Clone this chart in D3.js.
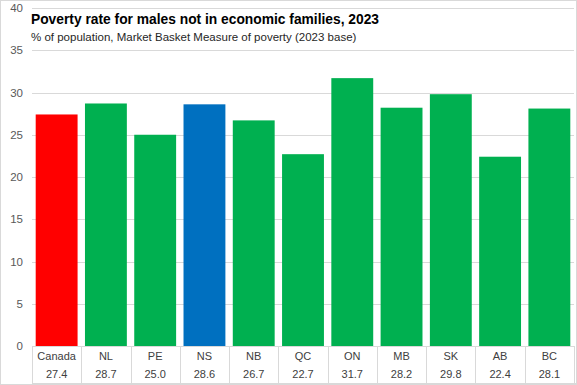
<!DOCTYPE html>
<html>
<head>
<meta charset="utf-8">
<script src="https://cdn.jsdelivr.net/npm/d3@7"></script>
<style>
  body { margin: 0; background: #fff; }
  svg { display: block; font-family: "Liberation Sans", Arial, sans-serif; }
</style>
</head>
<body>
<div id="chart"></div>
<script>
const categories = ['Canada', 'NL', 'PE', 'NS', 'NB', 'QC', 'ON', 'MB', 'SK', 'AB', 'BC'];
const values = [27.4, 28.7, 25.0, 28.6, 26.7, 22.7, 31.7, 28.2, 29.8, 22.4, 28.1];
const barColors = ['#ff0000', '#00b050', '#00b050', '#0070c0', '#00b050', '#00b050',
  '#00b050', '#00b050', '#00b050', '#00b050', '#00b050'];
const yTicks = [0, 5, 10, 15, 20, 25, 30, 35, 40];

const W = 577, H = 385;
const plot = { left: 32, right: 574, top: 8, bottom: 346 };

const svg = d3.select('#chart').append('svg')
  .attr('width', W)
  .attr('height', H);

// chart border
svg.append('rect')
  .attr('x', 0.5).attr('y', 0.5)
  .attr('width', W - 1).attr('height', H - 1)
  .attr('fill', '#fff')
  .attr('stroke', '#d9d9d9');

const x = d3.scaleBand()
  .domain(categories)
  .range([plot.left, plot.right])
  .paddingInner(0.15)
  .paddingOuter(0.075);

const y = d3.scaleLinear()
  .domain([0, 40])
  .range([plot.bottom, plot.top]);

// gridlines
svg.append('g').selectAll('line')
  .data(yTicks.filter(d => d > 0))
  .join('line')
  .attr('x1', plot.left).attr('x2', plot.right)
  .attr('y1', d => Math.round(y(d)) + 0.5)
  .attr('y2', d => Math.round(y(d)) + 0.5)
  .attr('stroke', '#d9d9d9');

// y tick labels
svg.append('g').selectAll('text')
  .data(yTicks)
  .join('text')
  .attr('x', 23)
  .attr('y', d => y(d) + 4)
  .attr('text-anchor', 'end')
  .attr('font-size', 11.5)
  .attr('fill', '#595959')
  .text(d => d);

// bars
svg.append('g').selectAll('rect')
  .data(values)
  .join('rect')
  .attr('x', (d, i) => x(categories[i]))
  .attr('y', d => y(d))
  .attr('width', x.bandwidth())
  .attr('height', d => y(0) - y(d))
  .attr('fill', (d, i) => barColors[i]);

// data table under the axis
const step = x.step();
const table = svg.append('g');
table.selectAll('line.v')
  .data(d3.range(categories.length + 1))
  .join('line')
  .attr('class', 'v')
  .attr('x1', i => Math.round(plot.left + i * step) + 0.5)
  .attr('x2', i => Math.round(plot.left + i * step) + 0.5)
  .attr('y1', plot.bottom)
  .attr('y2', 383)
  .attr('stroke', '#d9d9d9');

table.append('line')
  .attr('x1', plot.left).attr('x2', plot.right + 2)
  .attr('y1', 383.5).attr('y2', 383.5)
  .attr('stroke', '#d9d9d9');

table.selectAll('text.cat')
  .data(categories)
  .join('text')
  .attr('class', 'cat')
  .attr('x', d => x(d) + x.bandwidth() / 2)
  .attr('y', 360)
  .attr('text-anchor', 'middle')
  .attr('font-size', 11)
  .attr('fill', '#404040')
  .text(d => d);

table.selectAll('text.val')
  .data(values)
  .join('text')
  .attr('class', 'val')
  .attr('x', (d, i) => x(categories[i]) + x.bandwidth() / 2)
  .attr('y', 378)
  .attr('text-anchor', 'middle')
  .attr('font-size', 11)
  .attr('fill', '#404040')
  .text(d => d.toFixed(1));

// zero axis line
svg.append('line')
  .attr('x1', plot.left).attr('x2', plot.right)
  .attr('y1', plot.bottom + 0.5).attr('y2', plot.bottom + 0.5)
  .attr('stroke', '#d9d9d9');

// title and subtitle
svg.append('rect')
  .attr('x', 30).attr('y', 10)
  .attr('width', 370).attr('height', 36)
  .attr('fill', '#fff');

svg.append('text')
  .attr('x', 31).attr('y', 24)
  .attr('font-size', 15)
  .attr('font-weight', 'bold')
  .attr('fill', '#000')
  .attr('textLength', 348)
  .attr('lengthAdjust', 'spacingAndGlyphs')
  .text('Poverty rate for males not in economic families, 2023');

svg.append('text')
  .attr('x', 31).attr('y', 41)
  .attr('font-size', 11.5)
  .attr('fill', '#262626')
  .text('% of population, Market Basket Measure of poverty (2023 base)');
</script>
</body>
</html>
